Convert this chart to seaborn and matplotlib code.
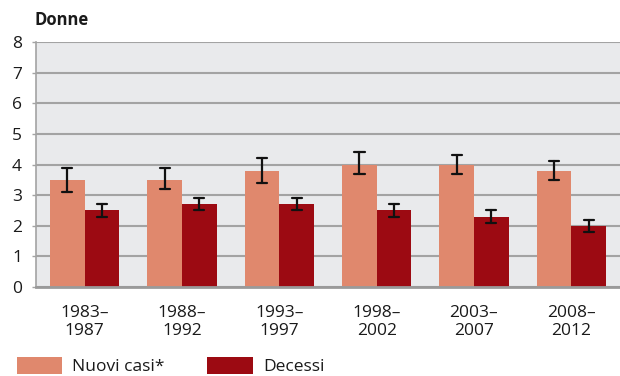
import matplotlib
matplotlib.use("Agg")
import matplotlib.pyplot as plt
import seaborn as sns
import pandas as pd
from matplotlib.patches import Patch

# Periods and rates (women), with lower/upper confidence limits
periodi = ["1983–\n1987", "1988–\n1992", "1993–\n1997", "1998–\n2002", "2003–\n2007", "2008–\n2012"]
nuovi_casi = [3.5, 3.5, 3.8, 4.0, 4.0, 3.8]
nuovi_casi_lo = [3.1, 3.2, 3.4, 3.7, 3.7, 3.5]
nuovi_casi_hi = [3.9, 3.9, 4.2, 4.4, 4.3, 4.1]
decessi = [2.5, 2.7, 2.7, 2.5, 2.3, 2.0]
decessi_lo = [2.3, 2.5, 2.5, 2.3, 2.1, 1.8]
decessi_hi = [2.7, 2.9, 2.9, 2.7, 2.5, 2.2]
serie = ["Nuovi casi*", "Decessi"]
colori = ["#E0886D", "#9C0A12"]
y_ticks = [0, 1, 2, 3, 4, 5, 6, 7, 8]

# Long table: low / central / high per bar -> median gives the bar, full range gives the interval
rows = []
for s, (c, lo, hi) in zip(serie, [(nuovi_casi, nuovi_casi_lo, nuovi_casi_hi),
                                   (decessi, decessi_lo, decessi_hi)]):
    for p, v, l, h in zip(periodi, c, lo, hi):
        for val in (l, v, h):
            rows.append({"periodo": p, "serie": s, "valore": val})
df = pd.DataFrame(rows)

sns.set_theme(style="white")
plt.rcParams["font.family"] = ["Open Sans", "DejaVu Sans"]

fig = plt.figure(figsize=(6.2, 3.76), dpi=100)
ax = fig.add_axes([36 / 620, (376 - 287) / 376, (620 - 36) / 620, (287 - 42) / 376])
ax.set_facecolor("#E9EAEC")

sns.barplot(data=df, x="periodo", y="valore", hue="serie", order=periodi, hue_order=serie,
            palette=colori, estimator="median", errorbar=("pi", 100), capsize=0.21,
            err_kws={"color": "#111111", "linewidth": 1.6, "zorder": 6}, width=0.71, gap=0,
            saturation=1, legend=False, ax=ax, zorder=3, linewidth=0, edgecolor="none")

ax.set_ylim(0, 8)
ax.set_yticks(y_ticks)
ax.set_xlim(-0.5, len(periodi) - 0.5)
ax.set_xlabel("")
ax.set_ylabel("")
ax.yaxis.grid(True, color="#A3A3A3", linewidth=1.5, zorder=0)
ax.set_axisbelow(True)

for side in ["top", "right"]:
    ax.spines[side].set_visible(False)
ax.spines["left"].set_color("#A3A3A3")
ax.spines["left"].set_linewidth(1.2)
ax.spines["bottom"].set_color("#9A9A9A")
ax.spines["bottom"].set_linewidth(2)
ax.spines["bottom"].set_zorder(4)

ax.tick_params(axis="y", length=3, width=1, color="#A3A3A3", pad=7, labelsize=12.5, labelcolor="#1a1a1a", left=True)
ax.tick_params(axis="x", length=0, pad=13, labelsize=12.5, labelcolor="#1a1a1a")
for lab in ax.get_xticklabels():
    lab.set_linespacing(1.2)

fig.text(35 / 620, 1 - 25 / 376, "Donne", fontsize=12, fontweight="bold", color="#1a1a1a", va="baseline")

handles = [Patch(facecolor=c, edgecolor="none", label=s) for s, c in zip(serie, colori)]
fig.legend(handles=handles, loc="lower left", bbox_to_anchor=(16 / 620, 0 / 376), ncol=2,
           frameon=False, fontsize=12.5, handlelength=2.6, handleheight=1.1, handletextpad=0.6,
           columnspacing=2.45, borderaxespad=0, borderpad=0.05, labelcolor="#1a1a1a")

fig.savefig("out.png", dpi=100)
